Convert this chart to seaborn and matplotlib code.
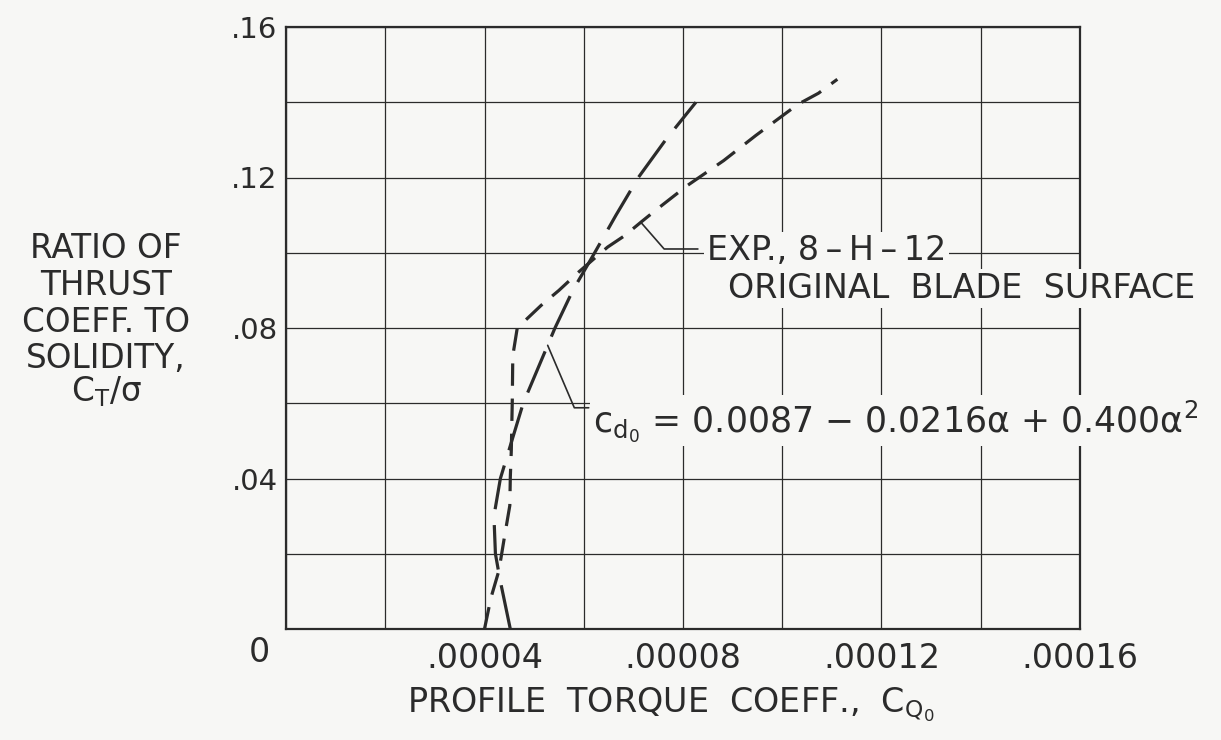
import numpy as np
import pandas as pd
import matplotlib
matplotlib.use("Agg")
import matplotlib.pyplot as plt
import seaborn as sns

# ---------------- data ----------------
# theoretical curve, c_d0 = 0.0087 - 0.0216a + 0.400a^2  (long dashes)
theory_ct_sigma = [0.0, 0.0133, 0.020, 0.030, 0.040, 0.050, 0.060, 0.070,
                   0.080, 0.090, 0.100, 0.110, 0.120, 0.130, 0.140]
theory_cq0 = [4.52e-5, 4.31e-5, 4.22e-5, 4.19e-5, 4.32e-5, 4.55e-5, 4.78e-5,
              5.10e-5, 5.42e-5, 5.78e-5, 6.22e-5, 6.65e-5, 7.10e-5, 7.65e-5,
              8.26e-5]

# experiment, 8-H-12 original blade surface (short dashes)
exp_ct_sigma = [0.0, 0.0083, 0.0155, 0.0243, 0.0328, 0.0403, 0.0474, 0.0607,
                0.0726, 0.0800, 0.0860, 0.0900, 0.0949, 0.0989, 0.1015,
                0.1045, 0.1081, 0.1112, 0.1178, 0.1245, 0.1312, 0.1394,
                0.1424, 0.1461]
exp_cq0 = [4.00e-5, 4.13e-5, 4.29e-5, 4.40e-5, 4.51e-5, 4.52e-5, 4.54e-5,
           4.56e-5, 4.57e-5, 4.66e-5, 5.14e-5, 5.50e-5, 5.90e-5, 6.25e-5,
           6.48e-5, 6.82e-5, 7.15e-5, 7.44e-5, 8.08e-5, 8.82e-5, 9.47e-5,
           1.031e-4, 1.073e-4, 1.111e-4]

x_major_ticks = [0.0, 0.00004, 0.00008, 0.00012, 0.00016]
x_tick_labels = ["", ".00004", ".00008", ".00012", ".00016"]
y_major_ticks = [0.0, 0.04, 0.08, 0.12, 0.16]
y_tick_labels = ["", ".04", ".08", ".12", ".16"]

label_exp_1 = "EXP., 8\u2009–\u2009H\u2009–\u200912"
label_exp_2 = "ORIGINAL  BLADE  SURFACE"
label_formula = r"$c_{d_0}$ = 0.0087 − 0.0216$\alpha$ + 0.400$\alpha^2$"
x_title = r"PROFILE  TORQUE  COEFF.,  $C_{Q_0}$"
y_title_lines = ["RATIO OF", "THRUST", "COEFF. TO", "SOLIDITY,", r"$C_T/\sigma$"]

# ---------------- style ----------------
BG = "#f7f7f5"
INK = "#2b2b2b"

sns.set_theme(style="white")
plt.rcParams["font.family"] = ["DejaVu Sans"]
plt.rcParams["mathtext.fontset"] = "dejavusans"
plt.rcParams["mathtext.default"] = "regular"

W, H = 1221, 740
fig = plt.figure(figsize=(W / 100, H / 100), dpi=100, facecolor=BG)
ax = fig.add_axes([286 / W, 1 - 629 / H, 794 / W, 602 / H])
ax.set_facecolor(BG)

df_t = pd.DataFrame({"cq": theory_cq0, "ct": theory_ct_sigma})
df_e = pd.DataFrame({"cq": exp_cq0, "ct": exp_ct_sigma})

sns.lineplot(data=df_t, x="cq", y="ct", sort=False, estimator=None, ax=ax,
             color=INK, linewidth=2.3, zorder=5)
ax.lines[-1].set_linestyle((0, (14, 5)))
sns.lineplot(data=df_e, x="cq", y="ct", sort=False, estimator=None, ax=ax,
             color=INK, linewidth=2.3, zorder=5)
ax.lines[-1].set_linestyle((0, (7, 4)))

ax.set_xlim(0, 0.00016)
ax.set_ylim(0, 0.16)
ax.set_xticks(x_major_ticks)
ax.set_xticklabels(x_tick_labels)
ax.set_yticks(y_major_ticks)
ax.set_yticklabels(y_tick_labels)
ax.set_xticks(np.arange(0, 0.000161, 0.00002), minor=True)
ax.set_yticks(np.arange(0, 0.161, 0.02), minor=True)
ax.grid(which="both", color=INK, linewidth=0.9)
ax.tick_params(which="both", length=0, colors=INK)
ax.tick_params(axis="x", pad=9, labelsize=24)
ax.tick_params(axis="y", pad=6, labelsize=21)
ax.set_xlabel("")
ax.set_ylabel("")
for s in ax.spines.values():
    s.set_color(INK)
    s.set_linewidth(1.6)

box = dict(facecolor=BG, edgecolor="none", pad=2)
FS_NOTE = 24

# EXP label + leader
i_exp = exp_ct_sigma.index(0.1081)
ax.plot([exp_cq0[i_exp], 7.62e-5, 8.30e-5], [exp_ct_sigma[i_exp], 0.1010, 0.1010],
        color=INK, linewidth=1.2, zorder=4)
ax.text(8.48e-5, 0.0980, label_exp_1, fontsize=FS_NOTE, color=INK, ha="left",
        va="baseline", bbox=box, zorder=3, clip_on=False)
ax.text(8.90e-5, 0.0880, label_exp_2, fontsize=FS_NOTE, color=INK, ha="left",
        va="baseline", bbox=box, zorder=3, clip_on=False)

# formula label + leader
anchor_y = 0.0754
anchor_x = float(np.interp(anchor_y, theory_ct_sigma, theory_cq0))
ax.plot([anchor_x, 5.81e-5, 6.10e-5], [anchor_y, 0.0588, 0.0588],
        color=INK, linewidth=1.2, zorder=4)
ax.text(6.18e-5, 0.0525, label_formula, fontsize=25, color=INK, ha="left",
        va="baseline", bbox=box, zorder=3, clip_on=False)

# axis titles
fig.text(259 / W, 1 - 652 / H, "0", fontsize=24, color=INK, ha="center", va="center")
fig.text(671 / W, 1 - 712 / H, x_title, fontsize=24, color=INK, ha="center", va="baseline")
for line, base in zip(y_title_lines, [258, 295, 332, 368, 401]):
    fig.text(106 / W, 1 - base / H, line, fontsize=23.5, color=INK, ha="center",
             va="baseline")

fig.savefig("out.png", dpi=100, facecolor=BG)
